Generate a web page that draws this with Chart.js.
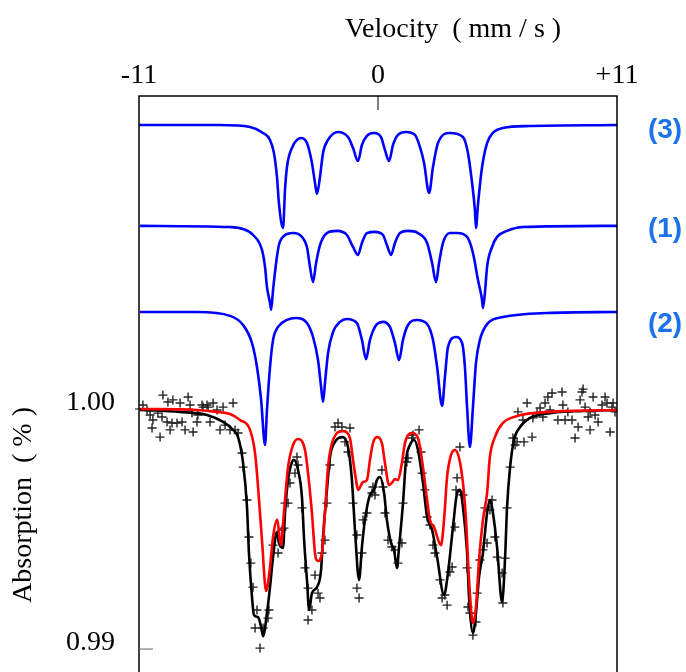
<!DOCTYPE html>
<html>
<head>
<meta charset="utf-8">
<script src="https://cdn.jsdelivr.net/npm/chart.js@4.4.0/dist/chart.umd.min.js"></script>
<style>
  html, body { margin: 0; padding: 0; background: #fff; }
  #wrap { width: 686px; height: 672px; }
</style>
</head>
<body>
<div id="wrap"><canvas id="spectrum" width="686" height="672"></canvas></div>
<script>
// tick labels
const velTicks = [-11, 0, 11];
const absTicks = [0.99, 1.00];

// sub-spectrum (3)
const comp3Vel = [-11.00, -7.27, -5.89, -5.29, -4.97, -4.79, -4.65, -4.56, -4.37, -4.28, -4.19, -3.96, -3.73, -3.54, -3.27, -3.04, -2.90, -2.81, -2.67, -2.53, -2.30, -1.84, -1.38, -1.15, -0.92, -0.74, -0.51, -0.18, 0.14, 0.32, 0.51, 0.69, 0.92, 1.29, 1.70, 1.93, 2.12, 2.35, 2.53, 2.76, 3.31, 3.91, 4.14, 4.33, 4.46, 4.51, 4.60, 4.79, 5.02, 5.29, 5.75, 7.00, 11.00];
const comp3Abs = [1.01183, 1.01183, 1.01175, 1.01150, 1.01121, 1.01067, 1.00967, 1.00858, 1.00754, 1.00913, 1.01008, 1.01088, 1.01121, 1.01129, 1.01108, 1.01025, 1.00942, 1.00896, 1.00967, 1.01067, 1.01121, 1.01154, 1.01133, 1.01088, 1.01033, 1.01100, 1.01138, 1.01150, 1.01133, 1.01079, 1.01033, 1.01100, 1.01142, 1.01154, 1.01142, 1.01092, 1.01025, 1.00900, 1.01008, 1.01108, 1.01150, 1.01133, 1.01067, 1.00942, 1.00829, 1.00754, 1.00850, 1.01008, 1.01108, 1.01150, 1.01171, 1.01179, 1.01183];

// sub-spectrum (1)
const comp1Vel = [-10.95, -6.81, -6.21, -5.75, -5.34, -5.20, -5.11, -4.97, -4.92, -4.83, -4.69, -4.56, -4.33, -3.91, -3.50, -3.27, -3.13, -2.99, -2.85, -2.67, -2.35, -1.89, -1.43, -1.15, -0.92, -0.74, -0.51, -0.14, 0.23, 0.41, 0.60, 0.78, 1.01, 1.38, 1.84, 2.26, 2.49, 2.67, 2.81, 2.99, 3.31, 3.64, 4.10, 4.37, 4.60, 4.79, 4.83, 4.92, 5.02, 5.25, 5.48, 5.94, 6.67, 11.00];
const comp1Abs = [1.00763, 1.00758, 1.00750, 1.00725, 1.00663, 1.00592, 1.00508, 1.00442, 1.00413, 1.00496, 1.00608, 1.00683, 1.00721, 1.00733, 1.00717, 1.00675, 1.00592, 1.00529, 1.00608, 1.00683, 1.00733, 1.00742, 1.00725, 1.00675, 1.00642, 1.00692, 1.00733, 1.00738, 1.00725, 1.00683, 1.00642, 1.00692, 1.00733, 1.00742, 1.00733, 1.00692, 1.00608, 1.00529, 1.00608, 1.00692, 1.00733, 1.00733, 1.00717, 1.00650, 1.00538, 1.00454, 1.00421, 1.00483, 1.00592, 1.00675, 1.00717, 1.00742, 1.00758, 1.00763];

// sub-spectrum (2)
const comp2Vel = [-10.95, -8.33, -6.81, -6.21, -5.80, -5.57, -5.38, -5.20, -5.11, -4.97, -4.83, -4.60, -4.19, -3.77, -3.27, -2.99, -2.76, -2.62, -2.53, -2.44, -2.30, -2.07, -1.75, -1.43, -0.97, -0.74, -0.55, -0.37, -0.05, 0.23, 0.55, 0.78, 0.97, 1.15, 1.38, 1.80, 2.26, 2.53, 2.72, 2.95, 3.08, 3.22, 3.59, 3.87, 4.00, 4.10, 4.23, 4.37, 4.51, 4.69, 5.06, 5.75, 7.78, 11.00];
const comp2Abs = [1.00404, 1.00404, 1.00388, 1.00350, 1.00275, 1.00175, 1.00038, 0.99850, 0.99996, 1.00175, 1.00288, 1.00342, 1.00371, 1.00379, 1.00358, 1.00300, 1.00204, 1.00092, 1.00029, 1.00108, 1.00233, 1.00321, 1.00363, 1.00375, 1.00358, 1.00288, 1.00208, 1.00288, 1.00354, 1.00363, 1.00342, 1.00275, 1.00204, 1.00288, 1.00350, 1.00371, 1.00354, 1.00288, 1.00175, 1.00013, 1.00133, 1.00258, 1.00300, 1.00275, 1.00175, 1.00008, 0.99842, 1.00008, 1.00192, 1.00288, 1.00358, 1.00383, 1.00400, 1.00404];

// red fitted envelope
const redVel = [-10.95, -8.33, -7.41, -6.81, -6.35, -5.89, -5.66, -5.52, -5.34, -5.15, -4.97, -4.83, -4.65, -4.46, -4.33, -4.14, -3.91, -3.68, -3.36, -3.22, -3.04, -2.90, -2.76, -2.58, -2.44, -2.30, -2.07, -1.61, -1.29, -1.15, -1.01, -0.92, -0.69, -0.51, -0.37, -0.23, -0.05, 0.18, 0.32, 0.51, 0.64, 0.78, 0.92, 1.10, 1.24, 1.56, 1.84, 2.07, 2.26, 2.39, 2.58, 2.90, 3.04, 3.18, 3.36, 3.54, 3.73, 3.91, 4.05, 4.19, 4.37, 4.51, 4.65, 4.83, 5.02, 5.15, 5.38, 5.75, 6.40, 7.13, 8.70, 11.00];
const redAbs = [1.00000, 0.99996, 0.99988, 0.99979, 0.99954, 0.99913, 0.99817, 0.99675, 0.99454, 0.99242, 0.99342, 0.99467, 0.99538, 0.99433, 0.99567, 0.99758, 0.99850, 0.99875, 0.99829, 0.99733, 0.99567, 0.99400, 0.99367, 0.99400, 0.99567, 0.99758, 0.99871, 0.99908, 0.99879, 0.99788, 0.99704, 0.99663, 0.99696, 0.99704, 0.99788, 0.99858, 0.99883, 0.99858, 0.99775, 0.99683, 0.99692, 0.99708, 0.99704, 0.99775, 0.99858, 0.99900, 0.99879, 0.99758, 0.99621, 0.99538, 0.99508, 0.99433, 0.99538, 0.99717, 0.99808, 0.99829, 0.99796, 0.99692, 0.99538, 0.99288, 0.99108, 0.99175, 0.99371, 0.99538, 0.99650, 0.99800, 0.99883, 0.99942, 0.99971, 0.99983, 0.99992, 0.99996];

// black total fit
const fitVel = [-10.95, -9.11, -7.87, -7.13, -6.67, -6.44, -6.21, -6.03, -5.94, -5.80, -5.71, -5.52, -5.38, -5.29, -5.11, -4.97, -4.83, -4.65, -4.56, -4.37, -4.28, -4.14, -3.96, -3.87, -3.68, -3.50, -3.40, -3.27, -3.17, -3.04, -2.81, -2.62, -2.53, -2.35, -2.21, -1.98, -1.61, -1.38, -1.20, -1.06, -0.87, -0.74, -0.60, -0.37, -0.18, -0.05, 0.09, 0.28, 0.41, 0.60, 0.74, 0.87, 0.97, 1.15, 1.29, 1.47, 1.66, 1.84, 2.07, 2.26, 2.49, 2.72, 3.04, 3.22, 3.45, 3.64, 3.77, 3.91, 4.10, 4.19, 4.37, 4.51, 4.65, 4.83, 5.02, 5.15, 5.29, 5.48, 5.71, 5.85, 5.94, 6.08, 6.26, 6.54, 7.00, 7.91, 9.43, 11.00];
const fitAbs = [0.99996, 0.99988, 0.99975, 0.99946, 0.99913, 0.99883, 0.99775, 0.99592, 0.99400, 0.99217, 0.99142, 0.99133, 0.99092, 0.99054, 0.99150, 0.99258, 0.99383, 0.99488, 0.99442, 0.99421, 0.99567, 0.99704, 0.99779, 0.99788, 0.99746, 0.99633, 0.99454, 0.99288, 0.99163, 0.99233, 0.99258, 0.99329, 0.99467, 0.99663, 0.99800, 0.99863, 0.99883, 0.99842, 0.99704, 0.99496, 0.99288, 0.99425, 0.99538, 0.99642, 0.99663, 0.99704, 0.99717, 0.99650, 0.99538, 0.99442, 0.99413, 0.99338, 0.99425, 0.99608, 0.99788, 0.99850, 0.99871, 0.99829, 0.99692, 0.99550, 0.99496, 0.99383, 0.99225, 0.99317, 0.99508, 0.99650, 0.99663, 0.99592, 0.99400, 0.99217, 0.99067, 0.99150, 0.99300, 0.99400, 0.99567, 0.99621, 0.99567, 0.99425, 0.99196, 0.99383, 0.99592, 0.99758, 0.99871, 0.99925, 0.99963, 0.99983, 0.99992, 0.99996];

// measured points
const measVel = [-10.82, -10.63, -10.49, -10.40, -10.36, -10.13, -10.03, -9.94, -9.90, -9.71, -9.67, -9.57, -9.48, -9.44, -9.25, -9.11, -9.02, -8.88, -8.74, -8.65, -8.56, -8.51, -8.33, -8.29, -8.10, -8.05, -7.87, -7.82, -7.73, -7.59, -7.41, -7.27, -7.13, -7.04, -6.81, -6.67, -6.58, -6.44,
  -6.26, -6.21, -6.03, -5.94, -5.85, -5.75, -5.66, -5.57, -5.43, -5.29, -5.06, -5.02, -4.83, -4.60, -4.42, -4.33, -4.28, -4.14, -4.05, -3.82, -3.73, -3.68, -3.50, -3.36, -3.22, -3.22, -3.04, -2.90, -2.76, -2.67, -2.58, -2.44, -2.35, -2.21, -1.98, -1.84, -1.66, -1.52, -1.38, -1.29, -1.15, -0.97, -0.97, -0.87, -0.74, -0.69, -0.51, -0.28, -0.23, -0.14,
  0.18, 0.23, 0.32, 0.46, 0.64, 0.78, 0.92, 1.10, 1.15, 1.33, 1.38, 1.56, 1.61, 1.89, 1.98, 2.03, 2.16, 2.26, 2.39, 2.53, 2.62, 2.85, 2.95, 3.08, 3.18, 3.31, 3.41, 3.54, 3.59, 3.64, 3.77, 3.91, 4.10, 4.14, 4.23, 4.37, 4.51, 4.56, 4.69, 4.83, 4.92, 5.02, 5.15, 5.25, 5.38, 5.48, 5.71, 5.75, 5.85, 5.94, 6.08, 6.21, 6.40,
  6.31, 6.44, 6.67, 6.72, 6.86, 7.09, 7.13, 7.32, 7.46, 7.59, 7.69, 7.82, 7.92, 8.01, 8.28, 8.47, 8.51, 8.61, 8.74, 8.93, 9.07, 9.21, 9.30, 9.39, 9.44, 9.53, 9.67, 9.76, 9.76, 9.90, 9.99, 10.13, 10.31, 10.45, 10.54, 10.68, 10.77, 10.82, 10.91];
const measAbs = [1.00017, 0.99996, 0.99975, 0.99921, 0.99954, 0.99983, 0.99883, 0.99967, 1.00058, 0.99946, 1.00029, 0.99913, 0.99942, 1.00038, 0.99942, 1.00025, 0.99946, 0.99913, 1.00050, 1.00017, 0.99983, 0.99904, 0.99946, 0.99975, 1.00017, 1.00008, 1.00017, 1.00008, 0.99946, 1.00025, 0.99996, 0.99913, 1.00008, 0.99933, 0.99913, 1.00025, 0.99913, 0.99900,
  0.99817, 0.99758, 0.99621, 0.99467, 0.99358, 0.99258, 0.99088, 0.99163, 0.99004, 0.99088, 0.99129, 0.99163, 0.99433, 0.99400, 0.99496, 0.99504, 0.99608, 0.99608, 0.99692, 0.99733, 0.99800, 0.99767, 0.99588, 0.99338, 0.99254, 0.99121, 0.99163, 0.99308, 0.99233, 0.99213, 0.99400, 0.99454, 0.99608, 0.99767, 0.99925, 0.99942, 0.99925, 0.99863, 0.99821, 0.99921, 0.99608, 0.99475, 0.99254, 0.99213, 0.99400, 0.99538, 0.99567, 0.99650, 0.99675, 0.99642,
  0.99746, 0.99675, 0.99567, 0.99454, 0.99425, 0.99413, 0.99358, 0.99442, 0.99608, 0.99779, 0.99796, 0.99879, 0.99892, 0.99913, 0.99821, 0.99733, 0.99663, 0.99550, 0.99517, 0.99433, 0.99400, 0.99288, 0.99213, 0.99225, 0.99183, 0.99321, 0.99342, 0.99508, 0.99663, 0.99713, 0.99842, 0.99642, 0.99338, 0.99175, 0.99150, 0.99058, 0.99113, 0.99233, 0.99371, 0.99413, 0.99588, 0.99442, 0.99579, 0.99621, 0.99467, 0.99383, 0.99317, 0.99192, 0.99379, 0.99588, 0.99758, 0.99879, 0.99863,
  0.99850, 0.99988, 0.99954, 0.99863, 1.00025, 0.99883, 0.99963, 0.99983, 1.00004, 0.99967, 1.00025, 1.00050, 0.99996, 1.00067, 0.99954, 1.00071, 1.00017, 0.99954, 0.99988, 0.99954, 0.99879, 0.99925, 1.00038, 1.00071, 1.00083, 1.00008, 0.99967, 0.99913, 0.99988, 1.00050, 0.99975, 0.99946, 1.00017, 1.00050, 1.00025, 0.99904, 1.00008, 1.00025, 0.99988];

const toPoints = (xs, ys) => xs.map((x, i) => ({ x: x, y: ys[i] }));

const serif = "'Liberation Serif', 'Times New Roman', serif";

// frame, inner tick at 0, titles and sub-spectrum labels
const decorations = {
  id: 'decorations',
  afterDraw(chart) {
    const ctx = chart.ctx;
    const a = chart.chartArea;
    const xs = chart.scales.x;
    const ys = chart.scales.y;
    ctx.save();
    ctx.strokeStyle = '#000';
    ctx.lineWidth = 1.5;
    ctx.beginPath();
    ctx.moveTo(a.left, a.bottom + 10);
    ctx.lineTo(a.left, a.top);
    ctx.lineTo(a.right, a.top);
    ctx.lineTo(a.right, a.bottom + 10);
    ctx.stroke();
    // tick at velocity 0
    const x0 = xs.getPixelForValue(0);
    ctx.lineWidth = 1;
    ctx.beginPath();
    ctx.moveTo(x0, a.top);
    ctx.lineTo(x0, a.top + 14);
    ctx.stroke();
    // y ticks
    const y1 = ys.getPixelForValue(1.00);
    ctx.beginPath();
    ctx.moveTo(a.left - 4, y1);
    ctx.lineTo(a.left + 2, y1);
    ctx.stroke();
    const y2 = ys.getPixelForValue(0.99);
    ctx.strokeStyle = '#666';
    ctx.beginPath();
    ctx.moveTo(a.left, y2);
    ctx.lineTo(a.left + 14, y2);
    ctx.stroke();

    ctx.fillStyle = '#000';
    ctx.font = '28px ' + serif;
    ctx.textAlign = 'center';
    ctx.textBaseline = 'middle';
    ctx.fillText('Velocity  ( mm / s )', 453, 30);

    ctx.save();
    ctx.translate(24, 505);
    ctx.rotate(-Math.PI / 2);
    ctx.fillText('Absorption  ( % )', 0, 0);
    ctx.restore();

    ctx.fillStyle = '#1a73e8';
    ctx.font = "bold 28px 'Liberation Sans', Arial, sans-serif";
    ctx.textAlign = 'center';
    ctx.fillText('(3)', 665, 130);
    ctx.fillText('(1)', 665, 229);
    ctx.fillText('(2)', 665, 324);
    ctx.restore();
  }
};

const lineStyle = (color) => ({
  showLine: true,
  borderColor: color,
  borderWidth: 2.6,
  pointRadius: 0,
  cubicInterpolationMode: 'monotone',
  fill: false
});

new Chart(document.getElementById('spectrum').getContext('2d'), {
  type: 'scatter',
  data: {
    datasets: [
      Object.assign({ label: 'fit (red)', data: toPoints(redVel, redAbs) }, lineStyle('#ff0000')),
      Object.assign({ label: 'fit', data: toPoints(fitVel, fitAbs) }, lineStyle('#000000')),
      {
        label: 'measured',
        data: toPoints(measVel, measAbs),
        pointStyle: 'cross',
        pointRadius: 4.5,
        borderColor: '#222',
        borderWidth: 1.4,
        showLine: false
      },
      Object.assign({ label: '(3)', data: toPoints(comp3Vel, comp3Abs) }, lineStyle('#0000ff')),
      Object.assign({ label: '(1)', data: toPoints(comp1Vel, comp1Abs) }, lineStyle('#0000ff')),
      Object.assign({ label: '(2)', data: toPoints(comp2Vel, comp2Abs) }, lineStyle('#0000ff'))
    ]
  },
  options: {
    responsive: false,
    animation: false,
    layout: { padding: { left: 0, right: 69, top: 0, bottom: 0 } },
    plugins: { legend: { display: false }, tooltip: { enabled: false } },
    scales: {
      x: {
        type: 'linear',
        position: 'top',
        min: -11,
        max: 11,
        grid: { display: false, drawTicks: false },
        border: { display: false },
        afterBuildTicks: (s) => { s.ticks = velTicks.map(v => ({ value: v })); },
        afterFit: (s) => { s.height = 96; s.paddingLeft = 0; s.paddingRight = 0; },
        ticks: {
          padding: 4,
          color: '#000',
          font: { family: serif, size: 28 },
          maxRotation: 0,
          autoSkip: false,
          callback: (v) => (v > 0 ? '+' + v : String(v))
        }
      },
      y: {
        type: 'linear',
        min: 0.98929,
        max: 1.01304,
        grid: { display: false, drawTicks: false },
        border: { display: false },
        afterBuildTicks: (s) => { s.ticks = absTicks.map(v => ({ value: v })); },
        afterFit: (s) => { s.width = 139; s.paddingTop = 0; s.paddingBottom = 0; },
        ticks: {
          padding: 24,
          color: '#000',
          labelOffset: -6,
          font: { family: serif, size: 28 },
          autoSkip: false,
          callback: (v) => v.toFixed(2)
        }
      }
    }
  },
  plugins: [decorations]
});
</script>
</body>
</html>
